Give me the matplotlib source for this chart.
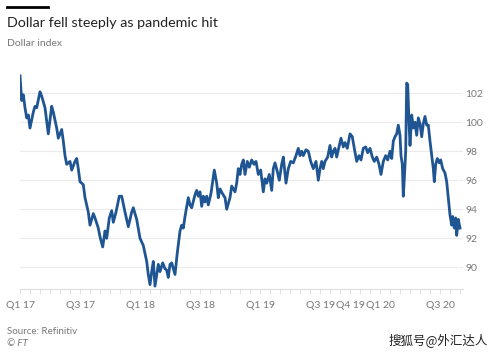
import matplotlib.pyplot as plt
from matplotlib.ticker import MultipleLocator

# months since Jan 2017
months = [0.0, 0.17, 0.33, 0.5, 0.67, 0.83, 1.0, 1.33, 1.5, 1.67, 2.0, 2.17, 2.5, 2.83,
          3.17, 3.33, 3.67, 3.83, 4.17, 4.33, 4.5, 4.67, 5.0, 5.17, 5.5, 5.67, 5.83,
          6.0, 6.33, 6.5, 6.83, 7.0, 7.33, 7.5, 7.83, 8.0, 8.27, 8.5, 8.67, 8.93, 9.17,
          9.33, 9.6, 9.93, 10.17, 10.5, 10.83, 11.17, 11.33, 11.67, 12.0, 12.33, 12.67,
          12.83, 13.0, 13.17, 13.33, 13.5, 13.83, 14.0, 14.27, 14.5, 14.67, 14.83, 15.0,
          15.17, 15.5, 15.73, 16.0, 16.17, 16.33, 16.5, 16.83, 17.0, 17.17, 17.5, 17.67,
          17.83, 18.0, 18.17, 18.33, 18.5, 18.67, 18.83, 19.1, 19.43, 19.67, 19.83, 20.0,
          20.23, 20.5, 20.67, 21.0, 21.17, 21.5, 21.67, 21.83, 22.0, 22.17, 22.33, 22.5,
          22.73, 22.93, 23.17, 23.4, 23.6, 23.83, 24.07, 24.33, 24.5, 24.67, 24.93, 25.17,
          25.33, 25.5, 25.73, 25.93, 26.17, 26.33, 26.6, 26.83, 27.07, 27.33, 27.6, 27.83,
          28.0, 28.17, 28.33, 28.6, 28.83, 29.07, 29.33, 29.6, 29.83, 30.0, 30.17, 30.33,
          30.5, 30.77, 31.0, 31.17, 31.33, 31.5, 31.67, 31.83, 32.1, 32.33, 32.5, 32.73,
          33.0, 33.23, 33.43, 33.67, 33.9, 34.1, 34.33, 34.57, 34.77, 35.0, 35.23, 35.43,
          35.67, 35.9, 36.1, 36.33, 36.57, 36.77, 37.0, 37.17, 37.33, 37.5, 37.67, 37.83,
          38.0, 38.1, 38.23, 38.33, 38.43, 38.57, 38.67, 38.77, 38.9, 39.0, 39.17, 39.33,
          39.5, 39.67, 39.83, 40.0, 40.17, 40.33, 40.5, 40.67, 40.83, 41.0, 41.17, 41.33,
          41.43, 41.57, 41.73, 41.93, 42.07, 42.27, 42.5, 42.67, 42.83, 43.0, 43.17, 43.27,
          43.43, 43.57, 43.67, 43.83, 44.0]

dxy = [103.2, 101.5, 101.9, 101.0, 100.3, 100.5, 99.6, 100.7, 101.1, 101.0, 102.1, 101.8,
       101.0, 99.2, 101.1, 100.7, 99.6, 98.9, 99.5, 98.7, 97.7, 97.1, 97.3, 96.7, 97.3,
       97.5, 96.8, 95.9, 95.7, 94.8, 93.8, 92.9, 93.7, 93.4, 92.7, 92.1, 91.4, 92.5, 92.0,
       93.4, 93.9, 93.1, 93.8, 94.9, 94.9, 93.8, 92.8, 93.8, 94.1, 93.3, 92.0, 91.5, 90.4,
       89.5, 88.8, 89.7, 90.4, 88.7, 90.2, 89.7, 90.3, 89.9, 89.8, 89.3, 90.2, 90.3, 89.5,
       91.0, 92.5, 92.9, 92.7, 93.5, 94.8, 94.3, 94.1, 95.0, 95.3, 94.9, 95.2, 94.2, 94.9,
       94.5, 94.9, 94.3, 95.1, 96.7, 95.8, 94.8, 95.4, 95.1, 94.8, 94.0, 94.8, 95.6, 95.2,
       95.8, 96.8, 96.4, 97.1, 97.4, 96.4, 97.3, 96.9, 97.4, 97.1, 97.3, 96.4, 96.7, 95.2,
       96.1, 95.8, 96.4, 95.3, 96.8, 97.2, 96.6, 96.0, 97.1, 97.6, 95.8, 96.8, 97.3, 97.2,
       97.7, 98.2, 97.7, 98.0, 97.7, 98.1, 98.0, 97.3, 96.8, 97.3, 96.0, 96.8, 97.3, 96.8,
       97.3, 97.6, 98.4, 97.6, 98.0, 98.2, 97.6, 98.1, 98.9, 98.3, 98.6, 98.2, 99.2, 99.0,
       98.2, 97.3, 97.7, 97.4, 98.2, 98.3, 97.9, 98.2, 97.6, 97.3, 97.6, 97.1, 96.4, 97.3,
       97.7, 97.4, 98.0, 97.5, 98.7, 99.0, 99.2, 99.8, 99.1, 97.7, 97.1, 94.9, 96.1, 98.0,
       102.7, 102.6, 100.0, 98.4, 100.5, 99.6, 100.0, 99.1, 100.3, 99.9, 99.0, 99.9, 100.4,
       99.8, 99.8, 98.7, 97.7, 96.8, 95.9, 97.1, 97.5, 97.2, 97.4, 96.8, 96.5, 95.9, 94.8,
       93.6, 92.9, 93.5, 92.7, 93.4, 92.2, 93.3, 92.7]

tick_months = [0, 6, 12, 18, 24, 30, 33, 36, 42]
tick_labels = ["Q1 17", "Q3 17", "Q1 18", "Q3 18", "Q1 19", "Q3 19", "Q4 19", "Q1 20", "Q3 20"]
y_ticks = [90, 92, 94, 96, 98, 100, 102]

plt.rcParams['font.family'] = ['Lato', 'DejaVu Sans']

fig = plt.figure(figsize=(4.99, 3.53), dpi=100, facecolor="white")
ax = fig.add_axes([20 / 499, 1 - 289 / 353, 443 / 499, (289 - 71.5) / 353])

ax.plot(months, dxy, color="#1f5592", lw=2.0, solid_joinstyle="round")

ax.set_xlim(0, 44.3)
ax.set_ylim(88.5, 103.5)

ax.set_yticks(y_ticks)
ax.yaxis.tick_right()
ax.tick_params(axis="y", length=0, pad=1.5, labelsize=7.5, labelcolor="#777777")
ax.grid(axis="y", color="#ebebeb", lw=0.8)
ax.set_axisbelow(True)

ax.set_xticks(tick_months)
ax.set_xticklabels(tick_labels)
ax.xaxis.set_minor_locator(MultipleLocator(1))
ax.tick_params(axis="x", which="both", length=3.5, color="#dddddd", width=0.6,
               labelsize=7.5, labelcolor="#777777", pad=5)

for s in ["top", "left", "right"]:
    ax.spines[s].set_visible(False)
ax.spines["bottom"].set_color("#dddddd")
ax.spines["bottom"].set_linewidth(0.8)

# header
fig.add_artist(plt.Line2D([7 / 499, 48 / 499], [1 - 6.5 / 353, 1 - 6.5 / 353],
                          color="black", lw=2))
fig.text(7 / 499, 1 - 23 / 353, "Dollar fell steeply as pandemic hit",
         fontsize=10.3, color="#222222", va="center")
fig.text(7 / 499, 1 - 44 / 353, "Dollar index", fontsize=7.5, color="#777777", va="center")

# footer
fig.text(7 / 499, 1 - 331.5 / 353, "Source: Refinitiv", fontsize=7, color="#777777",
         va="center")
fig.text(7 / 499, 1 - 343 / 353, "© FT", fontsize=7, color="#777777", va="center",
         style="italic")
fig.text(488 / 499, 1 - 340 / 353, "搜狐号@外汇达人", fontsize=9, color="#222222",
         va="center", ha="right", family=["Noto Sans CJK SC", "DejaVu Sans"])

fig.savefig("out.png", dpi=100)
